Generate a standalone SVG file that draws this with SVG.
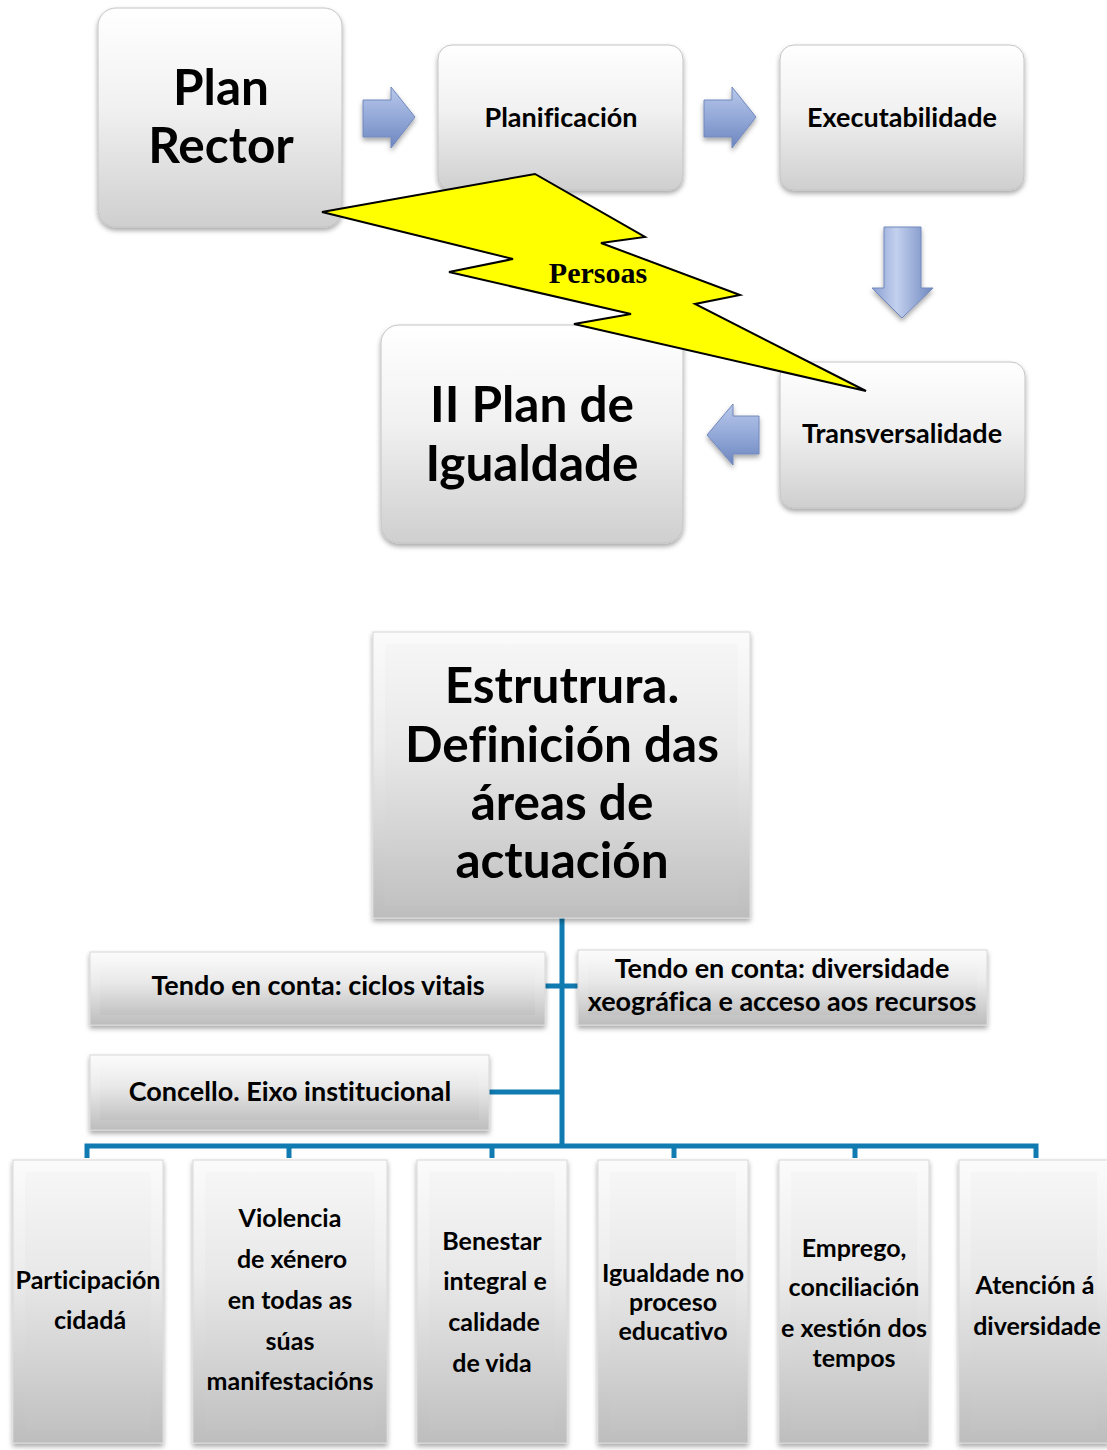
<svg xmlns="http://www.w3.org/2000/svg" width="1107" height="1450" viewBox="0 0 1107 1450">
<defs>
<linearGradient id="gBox" x1="0" y1="0" x2="0" y2="1">
<stop offset="0" stop-color="#ffffff"/><stop offset="0.45" stop-color="#f1f1f1"/><stop offset="1" stop-color="#cfcfcf"/>
</linearGradient>
<linearGradient id="gBev" x1="0" y1="0" x2="0" y2="1">
<stop offset="0" stop-color="#fbfbfb"/><stop offset="0.4" stop-color="#ececec"/><stop offset="1" stop-color="#bdbdbd"/>
</linearGradient>
<linearGradient id="gBevIn" x1="0" y1="0" x2="0" y2="1">
<stop offset="0" stop-color="#f6f6f6"/><stop offset="0.4" stop-color="#e8e8e8"/><stop offset="1" stop-color="#c2c2c2"/>
</linearGradient>
<linearGradient id="gArrH" x1="0" y1="0" x2="0" y2="1">
<stop offset="0" stop-color="#b9c8ea"/><stop offset="0.5" stop-color="#93a9d8"/><stop offset="1" stop-color="#6d86bf"/>
</linearGradient>
<linearGradient id="gArrV" x1="0" y1="0" x2="1" y2="0">
<stop offset="0" stop-color="#8aa0d2"/><stop offset="0.4" stop-color="#c3d0ee"/><stop offset="1" stop-color="#6f88c0"/>
</linearGradient>
<filter id="sh" x="-10%" y="-10%" width="120%" height="125%">
<feDropShadow dx="0" dy="3" stdDeviation="2.5" flood-color="#000" flood-opacity="0.35"/>
</filter>
<style>
.box{fill:url(#gBox);stroke:#c4c4c4;stroke-width:1;filter:url(#sh)}
.bev{fill:url(#gBev);stroke:#d8d8d8;stroke-width:1;filter:url(#sh)}
.bevin{fill:url(#gBevIn);stroke:none}
.arr{stroke:#7288bd;stroke-width:1;filter:url(#sh)}
.t{font-family:Lato,"Liberation Sans",sans-serif;font-weight:bold;fill:#000;text-anchor:middle;font-variant-ligatures:none;font-feature-settings:"liga" 0}
.big{font-size:49.5px}
.mid{font-size:27px}
.sm{font-size:25px}
.huge{font-size:49.5px}
.con{stroke:#0f7bb0;stroke-width:5;fill:none}
</style>
</defs>

<g id="plan-rector">
<rect class="box" x="98" y="8" width="244" height="219" rx="18"/>
<text class="t big" x="221" y="105">Plan</text>
<text class="t big" x="221" y="163">Rector</text>
</g>
<g id="planificacion">
<rect class="box" x="438" y="45" width="245" height="145" rx="14"/>
<text class="t mid" x="561" y="127">Planificación</text>
</g>
<g id="executabilidade">
<rect class="box" x="780" y="45" width="244" height="145" rx="14"/>
<text class="t mid" x="902" y="127">Executabilidade</text>
</g>
<g id="transversalidade">
<rect class="box" x="780" y="362" width="245" height="146" rx="14"/>
<text class="t mid" x="902" y="443">Transversalidade</text>
</g>
<g id="ii-plan">
<rect class="box" x="381" y="325" width="302" height="218" rx="18"/>
<text class="t big" x="532" y="422">II Plan de</text>
<text class="t big" x="532" y="481">Igualdade</text>
</g>

<g id="arrows">
<polygon class="arr" fill="url(#gArrH)" points="363,100 391,100 391,87 415,117 391,148 391,137 363,137"/>
<polygon class="arr" fill="url(#gArrH)" points="704,100 732,100 732,87 756,117 732,148 732,137 704,137"/>
<polygon class="arr" fill="url(#gArrV)" points="884,227 921,227 921,288 933,288 902,318 872,288 884,288"/>
<polygon class="arr" fill="url(#gArrH)" points="759,416 733,416 733,404 707,435 733,465 733,454 759,454"/>
</g>

<g id="persoas">
<polygon fill="#ffff00" stroke="#000" stroke-width="2" stroke-linejoin="miter" points="322,212 535,174 645,237 601,243 740,295 695,304 866,391 574,324 631,314 449,272 513,259"/>
<text x="598" y="283" font-family="'Liberation Serif',serif" font-weight="bold" font-size="30" text-anchor="middle" fill="#000">Persoas</text>
</g>

<g id="connectors">
<line class="con" x1="562" y1="918" x2="562" y2="1148"/>
<line class="con" x1="545" y1="986" x2="578" y2="986"/>
<line class="con" x1="489" y1="1092" x2="562" y2="1092"/>
<polyline class="con" points="87,1158 87,1146 1036,1146 1036,1158"/>
<line class="con" x1="289" y1="1146" x2="289" y2="1158"/>
<line class="con" x1="492" y1="1146" x2="492" y2="1158"/>
<line class="con" x1="674" y1="1146" x2="674" y2="1158"/>
<line class="con" x1="855" y1="1146" x2="855" y2="1158"/>
</g>

<g id="estrutura">
<rect class="bev" x="373" y="632" width="377" height="286"/>
<rect class="bevin" x="385" y="644" width="353" height="262"/>
<text class="t huge" x="562" y="703">Estrutrura.</text>
<text class="t huge" x="562" y="762">Definición das</text>
<text class="t huge" x="562" y="820">áreas de</text>
<text class="t huge" x="562" y="878">actuación</text>
</g>
<g id="ciclos">
<rect class="bev" x="90" y="952" width="455" height="73"/>
<rect class="bevin" x="100" y="962" width="435" height="53"/>
<text class="t mid" x="318" y="995">Tendo en conta: ciclos vitais</text>
</g>
<g id="diversidade">
<rect class="bev" x="578" y="950" width="409" height="75"/>
<rect class="bevin" x="588" y="960" width="389" height="55"/>
<text class="t mid" x="782" y="978">Tendo en conta: diversidade</text>
<text class="t mid" x="782" y="1011">xeográfica e acceso aos recursos</text>
</g>
<g id="concello">
<rect class="bev" x="90" y="1055" width="399" height="75"/>
<rect class="bevin" x="100" y="1065" width="379" height="55"/>
<text class="t mid" x="290" y="1101">Concello. Eixo institucional</text>
</g>

<g id="participacion">
<rect class="bev" x="13" y="1160" width="150" height="283"/>
<rect class="bevin" x="25" y="1172" width="126" height="259"/>
<text class="t sm" x="88" y="1289">Participación</text>
<text class="t sm" x="90" y="1329">cidadá</text>
</g>
<g id="violencia">
<rect class="bev" x="193" y="1160" width="194" height="283"/>
<rect class="bevin" x="205" y="1172" width="170" height="259"/>
<text class="t sm" x="290" y="1227">Violencia</text>
<text class="t sm" x="292" y="1268">de xénero</text>
<text class="t sm" x="290" y="1309">en todas as</text>
<text class="t sm" x="290" y="1350">súas</text>
<text class="t sm" x="290" y="1390">manifestacións</text>
</g>
<g id="benestar">
<rect class="bev" x="417" y="1160" width="150" height="283"/>
<rect class="bevin" x="429" y="1172" width="126" height="259"/>
<text class="t sm" x="492" y="1250">Benestar</text>
<text class="t sm" x="495" y="1290">integral e</text>
<text class="t sm" x="494" y="1331">calidade</text>
<text class="t sm" x="492" y="1372">de vida</text>
</g>
<g id="educativo">
<rect class="bev" x="598" y="1160" width="150" height="283"/>
<rect class="bevin" x="610" y="1172" width="126" height="259"/>
<text class="t sm" x="673" y="1282">Igualdade no</text>
<text class="t sm" x="673" y="1311">proceso</text>
<text class="t sm" x="673" y="1340">educativo</text>
</g>
<g id="emprego">
<rect class="bev" x="779" y="1160" width="150" height="283"/>
<rect class="bevin" x="791" y="1172" width="126" height="259"/>
<text class="t sm" x="854" y="1257">Emprego,</text>
<text class="t sm" x="854" y="1296">conciliación</text>
<text class="t sm" x="854" y="1337">e xestión dos</text>
<text class="t sm" x="854" y="1367">tempos</text>
</g>
<g id="atencion">
<rect class="bev" x="959" y="1160" width="150" height="283"/>
<rect class="bevin" x="971" y="1172" width="126" height="259"/>
<text class="t sm" x="1035" y="1294">Atención á</text>
<text class="t sm" x="1037" y="1335">diversidade</text>
</g>
</svg>
